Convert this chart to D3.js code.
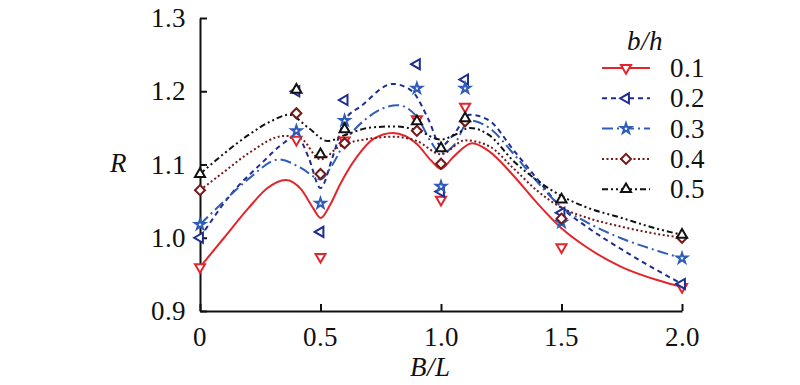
<!DOCTYPE html>
<html>
<head>
<meta charset="utf-8">
<style>
@font-face { font-family: "ChartSerif"; src: local("Liberation Serif"), local("LiberationSerif"); font-style: normal; }
@font-face { font-family: "ChartSerif"; src: local("Liberation Serif Italic"), local("LiberationSerif-Italic"); font-style: italic; }
body { margin: 0; background: #fff; }
svg, svg text { font-family: "ChartSerif", "Liberation Serif", "Times New Roman", serif; }
</style>
</head>
<body>
<svg id="chart" width="800" height="385"></svg>
<script src="https://cdn.jsdelivr.net/npm/d3@7"></script>
<script>
// measured points
var xMark = [0, 0.4, 0.5, 0.6, 0.9, 1.0, 1.1, 1.5, 2.0];
var r01 = [0.960, 1.134, 0.974, 1.133, 1.162, 1.052, 1.179, 0.987, 0.933];
var r02 = [1.000, 1.200, 1.008, 1.188, 1.237, 1.063, 1.216, 1.034, 0.937];
var r03 = [1.018, 1.146, 1.047, 1.160, 1.204, 1.070, 1.204, 1.021, 0.972];
var r04 = [1.065, 1.170, 1.087, 1.129, 1.146, 1.101, 1.159, 1.026, 1.000];
var r05 = [1.087, 1.202, 1.114, 1.148, 1.159, 1.122, 1.163, 1.052, 1.004];

// fitted curves
var fit01x = [0, 0.1, 0.2, 0.28, 0.355, 0.42, 0.47, 0.5, 0.54, 0.58, 0.65, 0.72, 0.8, 0.9, 0.96, 1.0, 1.05, 1.13, 1.2, 1.3, 1.4, 1.5, 1.6, 1.75, 1.9, 2.0];
var fit01y = [0.96, 1.0, 1.04, 1.068, 1.079, 1.066, 1.04, 1.027, 1.045, 1.072, 1.11, 1.135, 1.143, 1.128, 1.105, 1.094, 1.11, 1.129, 1.118, 1.085, 1.047, 1.013, 0.988, 0.96, 0.942, 0.933];
var fit02x = [0, 0.13, 0.25, 0.35, 0.4, 0.45, 0.5, 0.55, 0.6, 0.67, 0.8, 0.88, 0.95, 1.0, 1.05, 1.12, 1.2, 1.3, 1.4, 1.5, 1.6, 1.75, 1.9, 2.0];
var fit02y = [1.0, 1.06, 1.1, 1.13, 1.14, 1.11, 1.068, 1.11, 1.16, 1.18, 1.21, 1.2, 1.16, 1.125, 1.14, 1.168, 1.16, 1.12, 1.08, 1.041, 1.016, 0.984, 0.955, 0.937];
var fit03x = [0, 0.1, 0.2, 0.33, 0.42, 0.5, 0.55, 0.6, 0.7, 0.82, 0.9, 0.96, 1.0, 1.05, 1.12, 1.2, 1.3, 1.4, 1.5, 1.6, 1.75, 1.9, 2.0];
var fit03y = [1.018, 1.05, 1.08, 1.107, 1.095, 1.08, 1.1, 1.13, 1.165, 1.181, 1.165, 1.13, 1.115, 1.125, 1.16, 1.15, 1.115, 1.076, 1.042, 1.022, 0.999, 0.982, 0.972];
var fit04x = [0, 0.1, 0.2, 0.35, 0.42, 0.5, 0.58, 0.7, 0.8, 0.9, 1.0, 1.1, 1.2, 1.3, 1.4, 1.5, 1.6, 1.75, 1.9, 2.0];
var fit04y = [1.065, 1.09, 1.115, 1.139, 1.135, 1.107, 1.125, 1.135, 1.138, 1.132, 1.114, 1.133, 1.125, 1.095, 1.064, 1.041, 1.028, 1.015, 1.005, 1.0];
var fit05x = [0, 0.1, 0.2, 0.3, 0.37, 0.45, 0.53, 0.6, 0.7, 0.8, 0.9, 1.0, 1.06, 1.12, 1.2, 1.3, 1.4, 1.5, 1.6, 1.75, 1.9, 2.0];
var fit05y = [1.087, 1.115, 1.14, 1.16, 1.168, 1.15, 1.132, 1.14, 1.15, 1.152, 1.147, 1.134, 1.141, 1.15, 1.14, 1.105, 1.078, 1.057, 1.042, 1.027, 1.012, 1.004];

var names = ["0.1", "0.2", "0.3", "0.4", "0.5"];
var colors = ["#e3262b", "#1f2d8e", "#2f5db5", "#741818", "#111111"];
var dashes = [null, "5,4", "11,4,2,4", "2,2.5", "6,3,2,3,2,3"];
var marks = [r01, r02, r03, r04, r05];
var fitsX = [fit01x, fit02x, fit03x, fit04x, fit05x];
var fitsY = [fit01y, fit02y, fit03y, fit04y, fit05y];

var svg = d3.select("#chart");
var x = d3.scaleLinear().domain([0, 2]).range([200, 682]);
var y = d3.scaleLinear().domain([0.9, 1.3]).range([311, 18]);

function label(parent, tx, ty, str, italic, anchor) {
  return parent.append("text")
      .attr("x", tx).attr("y", ty)
      .attr("text-anchor", anchor || "start")
      .style("font-family", "ChartSerif, 'Liberation Serif', 'Times New Roman', serif")
      .style("font-size", "27px")
      .style("font-style", italic ? "italic" : "normal")
      .style("fill", "#111")
      .text(str);
}

// symbol per series
function symbolPath(i) {
  if (i == 0) return { d: d3.symbol(d3.symbolTriangle, 44)(), rot: 180 };
  if (i == 1) return { d: d3.symbol(d3.symbolTriangle, 44)(), rot: -90 };
  if (i == 2) return { d: d3.symbol(d3.symbolStar, 32)(), rot: 0 };
  if (i == 3) return { d: d3.symbol(d3.symbolSquare, 50)(), rot: 45 };
  return { d: d3.symbol(d3.symbolTriangle, 44)(), rot: 0 };
}

var line = d3.line()
    .x(function(d) { return x(d[0]); })
    .y(function(d) { return y(d[1]); })
    .curve(d3.curveMonotoneX);

// axes, labels added by hand below
var xTicks = [0, 0.5, 1, 1.5, 2];
var yTicks = [0.9, 1.0, 1.1, 1.2, 1.3];
var xAxis = d3.axisBottom(x).tickValues(xTicks).tickSize(-7).tickSizeOuter(0).tickFormat("");
var yAxis = d3.axisLeft(y).tickValues(yTicks).tickSize(-7).tickSizeOuter(0).tickFormat("");

svg.append("g").attr("class", "ax").attr("transform", "translate(0,311)").call(xAxis);
svg.append("g").attr("class", "ax").attr("transform", "translate(200,0)").call(yAxis);
svg.selectAll(".ax path, .ax line").attr("stroke", "#111").attr("stroke-width", 2);
svg.selectAll(".ax text").remove();

xTicks.forEach(function(v) {
  label(svg, x(v), 346, v === 0 ? "0" : d3.format(".1f")(v), false, "middle");
});
yTicks.forEach(function(v) {
  label(svg, 186, y(v) + 9, d3.format(".1f")(v), false, "end");
});

// curves
for (var i = 0; i < 5; i++) {
  var pts = fitsX[i].map(function(v, k) { return [v, fitsY[i][k]]; });
  svg.append("path").datum(pts)
      .attr("fill", "none")
      .attr("stroke-width", 2)
      .attr("stroke", colors[i])
      .attr("stroke-dasharray", dashes[i])
      .attr("d", line);
}

// markers
for (var i = 0; i < 5; i++) {
  var sp = symbolPath(i);
  svg.append("g").selectAll("path")
      .data(marks[i])
      .enter().append("path")
      .attr("fill", "#fff")
      .attr("stroke-width", 2)
      .attr("stroke", colors[i])
      .attr("d", sp.d)
      .attr("transform", function(d, k) {
        return "translate(" + x(xMark[k]) + "," + y(d) + ") rotate(" + sp.rot + ")";
      });
}

// axis titles
label(svg, 118, 172, "R", true, "middle");
label(svg, 430, 376, "B/L", true, "middle");

// legend
var lg = svg.append("g");
label(lg, 645, 50, "b/h", true, "middle");
names.forEach(function(n, i) {
  var cy = 68 + i * 30.3;
  var sp = symbolPath(i);
  lg.append("line").attr("x1", 602).attr("x2", 650).attr("y1", cy).attr("y2", cy)
      .attr("stroke", colors[i]).attr("stroke-width", 2)
      .attr("stroke-dasharray", dashes[i]);
  lg.append("path").attr("fill", "#fff").attr("stroke-width", 2).attr("stroke", colors[i])
      .attr("d", sp.d)
      .attr("transform", "translate(626," + cy + ") rotate(" + sp.rot + ")");
  label(lg, 670, cy + 9, n, false, "start");
});
</script>
</body>
</html>
